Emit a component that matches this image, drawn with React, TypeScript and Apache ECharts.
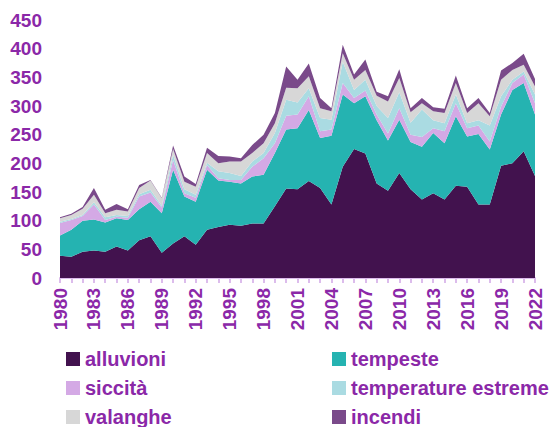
import React, { useEffect, useRef } from "react";
import * as echarts from "echarts";

const years = [
  "1980","1981","1982","1983","1984","1985","1986","1987","1988","1989",
  "1990","1991","1992","1993","1994","1995","1996","1997","1998","1999",
  "2000","2001","2002","2003","2004","2005","2006","2007","2008","2009",
  "2010","2011","2012","2013","2014","2015","2016","2017","2018","2019",
  "2020","2021","2022",
];

const alluvioni = [
  39, 37, 46, 48, 46, 55, 48, 66, 73, 44,
  60, 73, 58, 84, 89, 93, 91, 95, 95, 125,
  156, 155, 169, 157, 128, 194, 225, 217, 165, 152,
  183, 155, 137, 148, 137, 161, 159, 128, 128, 196,
  200, 221, 178,
];
const tempeste = [
  35, 47, 54, 54, 51, 49, 53, 54, 60, 69,
  129, 69, 75, 105, 81, 75, 74, 82, 85, 93,
  103, 106, 124, 87, 120, 126, 80, 100, 110, 88,
  93, 82, 92, 105, 98, 121, 88, 123, 96, 89,
  128, 119, 107,
];
const siccita = [
  22, 17, 8, 26, 4, 3, 4, 22, 16, 10,
  17, 6, 7, 8, 4, 3, 6, 17, 29, 17,
  24, 24, 24, 12, 11, 20, 9, 10, 10, 12,
  20, 13, 17, 8, 21, 23, 14, 15, 14, 14,
  12, 15, 20,
];
const temperatureEstreme = [
  2, 2, 2, 4, 5, 3, 3, 4, 5, 3,
  9, 7, 5, 4, 12, 12, 7, 9, 9, 18,
  28, 21, 14, 23, 17, 37, 14, 19, 15, 27,
  28, 21, 48, 14, 14, 15, 9, 9, 28, 18,
  6, 5, 15,
];
const valanghe = [
  6, 7, 11, 13, 7, 9, 8, 11, 16, 13,
  10, 13, 14, 17, 14, 20, 25, 15, 17, 17,
  21, 25, 21, 17, 15, 15, 18, 17, 18, 29,
  25, 18, 11, 16, 18, 20, 18, 30, 16, 29,
  17, 12, 14,
];
const incendi = [
  2, 2, 3, 12, 6, 10, 4, 5, 1, 1,
  6, 9, 5, 9, 13, 9, 6, 14, 15, 18,
  37, 15, 22, 18, 5, 15, 9, 18, 7, 9,
  15, 7, 9, 7, 7, 13, 8, 9, 6, 16,
  12, 19, 13,
];

const seriesNames = ["alluvioni", "tempeste", "siccità", "temperature estreme", "valanghe", "incendi"];
const seriesData = [alluvioni, tempeste, siccita, temperatureEstreme, valanghe, incendi];
const seriesColors = ["#42124e", "#25b3b1", "#d4a9e5", "#aadbe2", "#d7d7d7", "#7a4a8a"];

const TEXT = "#8b28a8";
const FONT = "'Liberation Sans', Arial, sans-serif";

export default function App() {
  const ref = useRef<HTMLDivElement>(null);
  useEffect(() => {
    if (!ref.current) return;
    const chart = echarts.init(ref.current, undefined, { renderer: "svg" });
    const legendCommon = {
      orient: "horizontal" as const,
      padding: 0,
      itemWidth: 14,
      itemHeight: 14,
      icon: "rect",
      textStyle: { color: TEXT, fontSize: 20, fontWeight: "bold", fontFamily: FONT, lineHeight: 20 },
    };
    const legendPos = [
      { left: 66, top: 349 },
      { left: 332, top: 349 },
      { left: 66, top: 378 },
      { left: 332, top: 378 },
      { left: 66, top: 407 },
      { left: 332, top: 407 },
    ];
    chart.setOption({
      animation: false,
      backgroundColor: "#ffffff",
      grid: { left: 60, right: 22, top: 20, bottom: 149, containLabel: false },
      legend: seriesNames.map((name, i) => ({ ...legendCommon, ...legendPos[i], data: [name] })),
      xAxis: {
        type: "category",
        data: years,
        boundaryGap: false,
        axisLine: { show: true, lineStyle: { color: "#dcbcec", width: 2 } },
        axisTick: { show: true, interval: 0, length: 5, lineStyle: { color: "#dcbcec", width: 2 } },
        axisLabel: {
          interval: 2,
          rotate: 90,
          margin: 10,
          color: TEXT,
          fontSize: 19,
          fontWeight: "bold",
          fontFamily: FONT,
        },
      },
      yAxis: {
        type: "value",
        min: 0,
        max: 450,
        interval: 50,
        axisLine: { show: false },
        axisTick: { show: false },
        splitLine: { show: false },
        axisLabel: { margin: 18, color: TEXT, fontSize: 19, fontWeight: "bold", fontFamily: FONT },
      },
      series: seriesNames.map((name, i) => ({
        name,
        type: "line",
        stack: "total",
        data: seriesData[i],
        symbol: "none",
        lineStyle: { width: 0 },
        areaStyle: { color: seriesColors[i], opacity: 1 },
        itemStyle: { color: seriesColors[i] },
        emphasis: { disabled: true },
      })),
    });
    return () => chart.dispose();
  }, []);
  return <div ref={ref} style={{ width: 557, height: 427, position: "absolute", left: 0, top: 0 }} />;
}
